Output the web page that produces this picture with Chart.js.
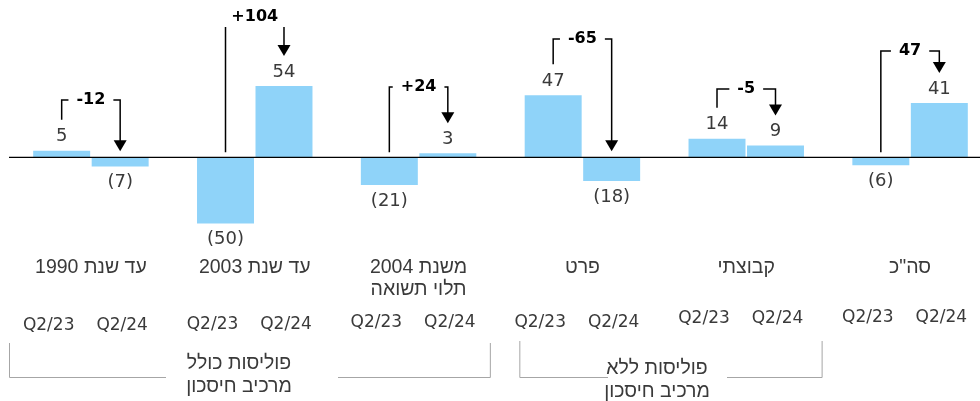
<!DOCTYPE html>
<html>
<head>
<meta charset="utf-8">
<script src="https://cdn.jsdelivr.net/npm/chart.js@4.4.1/dist/chart.umd.min.js"></script>
<style>
  html, body { margin: 0; padding: 0; overflow: hidden; background: #fff; width: 980px; height: 401px; }
  #wrap { position: relative; width: 992px; height: 401px; }
</style>
</head>
<body>
<div id="wrap"><canvas id="chart"></canvas></div>
<script>
const categories = [['עד שנת 1990'], ['עד שנת 2003'], ['משנת 2004', 'תלוי תשואה'], ['פרט'], ['קבוצתי'], ['סה"כ']];
const periods = ['Q2/23', 'Q2/24'];
const q223 = [5, -50, -21, 47, 14, -6];
const q224 = [-7, 54, 3, -18, 9, 41];
const changes = ['-12', '+104', '+24', '-65', '-5', '47'];
const groupNames = [['פוליסות כולל', 'מרכיב חיסכון'], ['פוליסות ללא', 'מרכיב חיסכון']];

const BLUE = '#8fd3f9';
const TEXT = '#3a3a3a';
const HEB = '"Liberation Sans", Arial, sans-serif';
const fmt = (v) => (v < 0 ? '(' + Math.abs(v) + ')' : String(v));

// layout of the change brackets, in pixels
const bracketTop = [100, 27, 87, 39, 89, 51];
const changeDy = [0, -10, 0, 0, 0, 0];
const periodY = [326, 325, 323, 323, 319, 318];

const annotations = {
  id: 'annotations',
  afterDatasetsDraw(chart) {
    const { ctx, chartArea, scales: { x, y } } = chart;
    const y0 = y.getPixelForValue(0);
    const cw = x.getPixelForValue(1) - x.getPixelForValue(0);
    const m0 = chart.getDatasetMeta(0).data;
    const m1 = chart.getDatasetMeta(1).data;
    ctx.save();

    // zero line
    ctx.strokeStyle = '#000';
    ctx.lineWidth = 1.3;
    ctx.beginPath();
    ctx.moveTo(chartArea.left, y0);
    ctx.lineTo(chartArea.right, y0);
    ctx.stroke();

    // value labels
    ctx.fillStyle = TEXT;
    ctx.textAlign = 'center';
    ctx.textBaseline = 'middle';
    ctx.font = '18px "DejaVu Sans"';
    [m0, m1].forEach((bars, di) => {
      const vals = di === 0 ? q223 : q224;
      bars.forEach((bar, i) => {
        const v = vals[i];
        ctx.fillText(fmt(v), bar.x, v >= 0 ? bar.y - 14 : bar.y + 16);
      });
    });

    // change brackets with arrows
    ctx.strokeStyle = '#000';
    ctx.fillStyle = '#000';
    ctx.lineWidth = 1.5;
    ctx.font = 'bold 16px "DejaVu Sans"';
    categories.forEach((_, i) => {
      const a = m0[i], b = m1[i];
      const top = bracketTop[i];
      const leftBottom = q223[i] >= 0 ? a.y - 31 : y0 - 5;
      const tip = q224[i] >= 0 ? b.y - 30 : y0 - 6;
      const tx = (a.x + b.x) / 2;
      const w = ctx.measureText(changes[i]).width;
      ctx.beginPath();
      ctx.moveTo(a.x, leftBottom);
      ctx.lineTo(a.x, top);
      if (tx - w / 2 - 8 > a.x) ctx.lineTo(tx - w / 2 - 8, top);
      if (tx + w / 2 + 8 < b.x) {
        ctx.moveTo(tx + w / 2 + 8, top);
        ctx.lineTo(b.x, top);
      } else {
        ctx.moveTo(b.x, top);
      }
      ctx.lineTo(b.x, tip - 10);
      ctx.stroke();
      ctx.beginPath();
      ctx.moveTo(b.x - 6.5, tip - 11);
      ctx.lineTo(b.x + 6.5, tip - 11);
      ctx.lineTo(b.x, tip);
      ctx.closePath();
      ctx.fill();
      ctx.fillText(changes[i], tx, top + changeDy[i]);
    });

    // category names
    ctx.fillStyle = TEXT;
    ctx.font = '19.5px ' + HEB;
    ctx.direction = 'rtl';
    ctx.textAlign = 'center';
    categories.forEach((lines, i) => {
      const cx = x.getPixelForValue(i);
      lines.forEach((t, li) => ctx.fillText(t, cx, 268 + li * 22));
    });

    // period labels
    ctx.direction = 'ltr';
    ctx.font = '17px "DejaVu Sans"';
    categories.forEach((_, i) => {
      ctx.fillText(periods[0], m0[i].x - 13, periodY[i]);
      ctx.fillText(periods[1], m1[i].x + 2, periodY[i]);
    });

    // group brackets
    ctx.strokeStyle = '#a6a6a6';
    ctx.lineWidth = 1;
    const c = (i) => x.getPixelForValue(i);
    const brackets = [
      { l: c(0) - 0.5 * cw, r: c(2) + 0.435 * cw, gl: 166, gr: 338, tx: 239, ty: [364, 387], top: 343, bot: 377 },
      { l: c(3) - 0.385 * cw, r: c(4) + 0.46 * cw, gl: 608, gr: 727, tx: 657, ty: [369, 392], top: 341, bot: 377 },
    ];
    ctx.direction = 'rtl';
    ctx.font = '19.5px ' + HEB;
    brackets.forEach((g, gi) => {
      ctx.beginPath();
      ctx.moveTo(g.l + 0.5, g.top);
      ctx.lineTo(g.l + 0.5, g.bot + 0.5);
      ctx.lineTo(g.gl, g.bot + 0.5);
      ctx.moveTo(g.gr, g.bot + 0.5);
      ctx.lineTo(g.r + 0.5, g.bot + 0.5);
      ctx.lineTo(g.r + 0.5, g.top);
      ctx.stroke();
      groupNames[gi].forEach((t, li) => ctx.fillText(t, g.tx, g.ty[li]));
    });
    ctx.restore();
  }
};

new Chart(document.getElementById('chart'), {
  type: 'bar',
  data: {
    labels: categories,
    datasets: [
      { label: periods[0], data: q223, backgroundColor: BLUE },
      { label: periods[1], data: q224, backgroundColor: BLUE },
    ],
  },
  options: {
    responsive: true,
    maintainAspectRatio: false,
    animation: false,
    categoryPercentage: 0.714,
    barPercentage: 0.974,
    layout: { padding: { left: 9, right: 0, top: 0, bottom: 171 } },
    plugins: { legend: { display: false }, tooltip: { enabled: false } },
    scales: {
      x: { display: false },
      y: { display: false, min: -55, max: 119 },
    },
  },
  plugins: [annotations],
});
</script>
</body>
</html>
